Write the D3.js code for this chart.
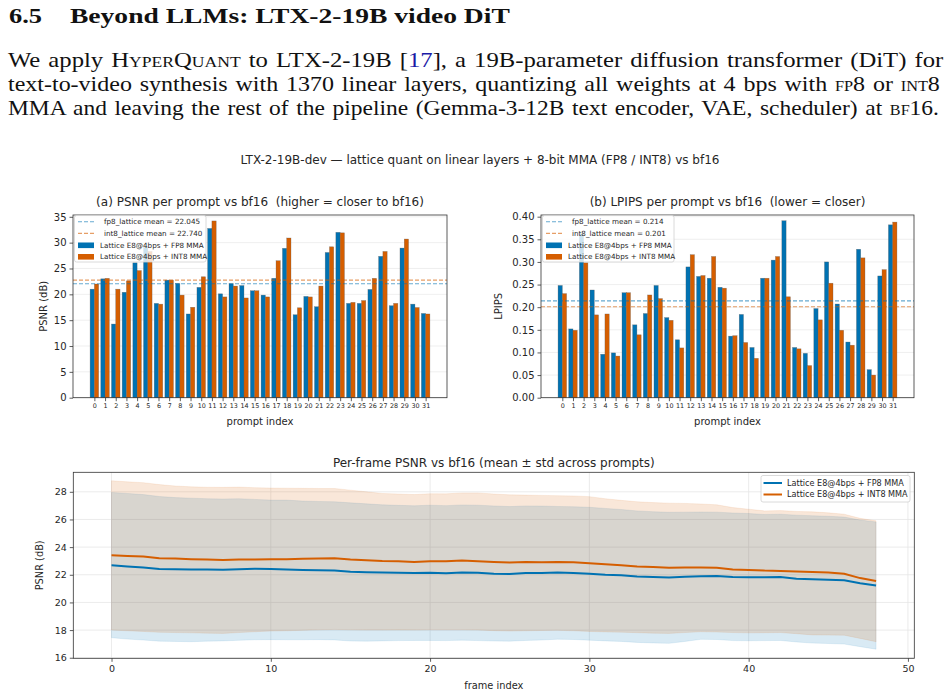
<!DOCTYPE html>
<html>
<head>
<meta charset="UTF-8">
<title>LTX-2-19B lattice quant</title>
<script src="https://d3js.org/d3.v7.min.js"></script>
<style>
  body { margin: 0; background: #fff; width: 950px; height: 695px; overflow: hidden; }
  .sc { font-variant: small-caps; }
</style>
</head>
<body>
<div id="chart"></div>
<script>
// ---- data ----
const prompts = [0,1,2,3,4,5,6,7,8,9,10,11,12,13,14,15,16,17,18,19,20,21,22,23,24,25,26,27,28,29,30,31]

const psnrFp8  = [21.0,23.0,14.25,20.4,26.1,29.1,18.25,22.75,22.1,16.2,21.35,32.75,20.1,22.05,21.7,20.7,
                  19.85,23.1,28.9,16.05,19.6,17.6,28.1,32.0,18.25,18.25,20.95,27.35,17.8,28.95,18.1,16.3]
const psnrInt8 = [22.0,23.1,21.0,22.6,24.6,28.3,18.1,22.75,19.85,17.5,23.4,34.2,19.5,21.6,19.3,20.7,
                  19.5,26.5,30.9,17.4,19.5,21.6,29.2,31.9,18.45,18.8,23.1,28.3,18.25,30.7,17.45,16.2]
const psnrMeans = [22.045, 22.740]

const lpipsFp8  = [0.248,0.152,0.362,0.238,0.096,0.099,0.232,0.161,0.186,0.248,0.177,0.128,0.289,0.268,0.264,0.244,
                   0.136,0.184,0.111,0.264,0.304,0.391,0.111,0.098,0.197,0.300,0.207,0.123,0.328,0.062,0.269,0.382]
const lpipsInt8 = [0.230,0.149,0.298,0.183,0.185,0.092,0.232,0.139,0.227,0.219,0.171,0.110,0.316,0.270,0.312,0.242,
                   0.137,0.122,0.087,0.264,0.312,0.223,0.108,0.071,0.172,0.253,0.149,0.116,0.309,0.050,0.283,0.388]
const lpipsMeans = [0.214, 0.201]

const frames = [0,1,2,3,4,5,6,7,8,9,10,11,12,13,14,15,16,17,18,19,20,21,22,23,24,
                25,26,27,28,29,30,31,32,33,34,35,36,37,38,39,40,41,42,43,44,45,46,47,48]
const fp8Mean = [22.68,22.60,22.52,22.42,22.40,22.39,22.38,22.36,22.40,22.43,22.41,22.38,22.35,22.32,22.30,22.22,22.18,
                 22.16,22.15,22.12,22.14,22.11,22.16,22.15,22.08,22.06,22.12,22.13,22.16,22.12,22.07,22.00,21.96,21.88,
                 21.84,21.80,21.85,21.90,21.92,21.84,21.82,21.82,21.83,21.72,21.68,21.64,21.60,21.38,21.22]
const fp8Hi   = [27.95,27.88,27.80,27.66,27.58,27.54,27.50,27.48,27.50,27.45,27.40,27.40,27.33,27.30,27.28,27.20,27.13,
                 27.06,27.02,26.99,27.03,27.00,27.05,27.03,26.98,26.93,26.98,26.97,26.94,26.92,26.88,26.80,26.72,26.62,
                 26.56,26.52,26.53,26.54,26.53,26.47,26.43,26.36,26.38,26.31,26.27,26.23,26.17,25.96,25.82]
const fp8Lo   = [17.45,17.35,17.28,17.20,17.18,17.16,17.20,17.22,17.26,17.30,17.31,17.30,17.30,17.31,17.29,17.21,17.20,
                 17.22,17.24,17.25,17.25,17.24,17.27,17.24,17.21,17.20,17.25,17.28,17.34,17.32,17.27,17.22,17.18,17.11,
                 17.07,17.04,17.18,17.33,17.32,17.24,17.23,17.24,17.25,17.14,17.06,17.03,16.99,16.80,16.62]
const int8Mean = [23.42,23.36,23.32,23.20,23.17,23.13,23.10,23.07,23.10,23.11,23.12,23.13,23.16,23.18,23.20,23.10,23.05,
                  23.00,22.98,22.93,22.98,22.97,23.03,22.98,22.92,22.88,22.92,22.90,22.92,22.90,22.84,22.76,22.69,22.60,
                  22.56,22.50,22.53,22.53,22.50,22.38,22.35,22.30,22.28,22.24,22.20,22.16,22.08,21.76,21.55]
const int8Hi   = [28.80,28.72,28.66,28.52,28.42,28.36,28.33,28.32,28.34,28.30,28.27,28.26,28.25,28.24,28.24,28.12,28.00,
                  27.88,27.84,27.80,27.86,27.85,27.92,27.92,27.84,27.78,27.76,27.74,27.72,27.70,27.65,27.50,27.38,27.28,
                  27.22,27.18,27.16,27.12,27.06,26.86,26.74,26.62,26.64,26.58,26.55,26.48,26.38,26.08,25.90]
const int8Lo   = [18.00,17.95,17.90,17.84,17.82,17.80,17.78,17.76,17.82,17.88,17.93,17.95,17.98,18.02,18.05,18.02,18.00,
                  18.00,18.01,18.00,18.02,18.02,18.02,18.00,17.96,17.93,17.95,17.97,17.98,17.95,17.90,17.87,17.85,17.81,
                  17.78,17.76,17.82,17.88,17.86,17.82,17.80,17.81,17.82,17.74,17.65,17.64,17.63,17.40,17.16]

const psnrTicks  = [0,5,10,15,20,25,30,35]
const lpipsTicks = [0,0.05,0.10,0.15,0.20,0.25,0.30,0.35,0.40]
const frameTicks = [0,10,20,30,40,50]
const frameYTicks = [16,18,20,22,24,26,28]

const seriesNames = ['Lattice E8@4bps + FP8 MMA', 'Lattice E8@4bps + INT8 MMA']
const meanNames = ['fp8_lattice mean', 'int8_lattice mean']

// paragraph text above the figure, split in runs: [text, style]
const paraLines = [
  [['We apply ', ''], ['HyperQuant', 'sc'], [' to LTX-2-19B [', ''], ['17', 'ref'], ['], a 19B-parameter diffusion transformer (DiT) for', '']],
  [['text-to-video synthesis with 1370 linear layers, quantizing all weights at 4 bps with ', ''], ['fp8', 'sc'], [' or ', ''], ['int8', 'sc']],
  [['MMA and leaving the rest of the pipeline (Gemma-3-12B text encoder, VAE, scheduler) at ', ''], ['bf16', 'sc'], ['.', '']]
]

const blue = '#0072B2', orange = '#D55E00'
const txt = '#262626'

const svg = d3.select('#chart').append('svg').attr('width', 950).attr('height', 695)
  .attr('font-family', '"DejaVu Sans", sans-serif')

// ---- header (serif, stretched a bit to the LaTeX widths) ----
const serif = '"Liberation Serif", "DejaVu Serif", serif'
function fitText(sel, x, yb, width) {
  const w = sel.node().getComputedTextLength()
  sel.attr('transform', `translate(${x},${yb}) scale(${width / w},1)`)
}
const secNum = svg.append('text').attr('font-family', serif).attr('font-weight', 'bold')
  .attr('font-size', '22px').attr('fill', '#111').text('6.5')
fitText(secNum, 9, 23, 33)
const secTitle = svg.append('text').attr('font-family', serif).attr('font-weight', 'bold')
  .attr('font-size', '22px').attr('fill', '#111').text('Beyond LLMs: LTX-2-19B video DiT')
fitText(secTitle, 70, 23, 440)

paraLines.forEach((runs, li) => {
  const t = svg.append('text').attr('font-family', serif).attr('font-size', '20px').attr('fill', '#111')
    .style('word-spacing', '1.5px')
  runs.forEach(r => {
    const ts = t.append('tspan').text(r[0])
    if (r[1] === 'sc') ts.attr('class', 'sc')
    if (r[1] === 'ref') ts.attr('fill', '#1a1aa6')
  })
  fitText(t, 8, 67 + li * 24, li === 2 ? 932 : 934)
})

svg.append('text').attr('x', 480).attr('y', 164).attr('text-anchor', 'middle')
  .attr('font-size', '12px').attr('fill', txt)
  .text('LTX-2-19B-dev \u2014 lattice quant on linear layers + 8-bit MMA (FP8 / INT8) vs bf16')

function styleAxis(ax, size) {
  ax.select('.domain').remove()
  ax.selectAll('.tick line').attr('stroke', '#333').attr('stroke-width', 0.8)
  ax.selectAll('.tick text').attr('fill', txt).attr('font-size', size).attr('font-family', '"DejaVu Sans", sans-serif')
}

function barPanel(p) {
  const top = 215, bot = 397.7
  const x = d3.scaleLinear().domain([-2, 33]).range([p.x0, p.x1])
  const y = d3.scaleLinear().domain([0, p.ymax]).range([bot, top])
  const g = svg.append('g')

  g.append('g').selectAll('line').data(p.ticks).join('line')
    .attr('x1', p.x0).attr('x2', p.x1).attr('y1', d => y(d)).attr('y2', d => y(d))
    .attr('stroke', '#ebebeb').attr('stroke-width', 0.8)

  const sets = [{v: p.fp8, c: blue, off: -0.4}, {v: p.int8, c: orange, off: 0}]
  sets.forEach(s => {
    g.append('g').selectAll('rect').data(s.v).join('rect')
      .attr('x', (d, i) => x(prompts[i] + s.off))
      .attr('width', x(0.4) - x(0))
      .attr('y', d => y(d))
      .attr('height', d => y(0) - y(d))
      .attr('fill', s.c).attr('stroke', '#555').attr('stroke-width', 0.5).attr('stroke-opacity', 0.55)
  })

  // dashed mean lines
  g.append('g').selectAll('line').data(p.means).join('line')
    .attr('x1', p.x0).attr('x2', p.x1).attr('y1', d => y(d)).attr('y2', d => y(d))
    .attr('stroke', (d, i) => i ? orange : blue).attr('stroke-opacity', 0.6)
    .attr('stroke-width', 1.1).attr('stroke-dasharray', '4,2')

  g.append('rect').attr('x', p.x0).attr('y', top).attr('width', p.x1 - p.x0).attr('height', bot - top)
    .attr('fill', 'none').attr('stroke', '#333').attr('stroke-width', 0.8)

  const ya = g.append('g').attr('transform', `translate(${p.x0},0)`)
    .call(d3.axisLeft(y).tickValues(p.ticks).tickFormat(p.fmt).tickSize(3.5).tickPadding(3))
  styleAxis(ya, '10px')
  const xa = g.append('g').attr('transform', `translate(0,${bot})`)
    .call(d3.axisBottom(x).tickValues(prompts).tickSize(3.5).tickPadding(2))
  styleAxis(xa, '6.4px')

  const cx = (p.x0 + p.x1) / 2
  g.append('text').attr('x', cx).attr('y', 205.5).attr('text-anchor', 'middle')
    .attr('font-size', '12px').attr('fill', txt).style('white-space', 'pre').text(p.title)
  g.append('text').attr('x', cx).attr('y', 425).attr('text-anchor', 'middle')
    .attr('font-size', '10px').attr('fill', txt).text('prompt index')
  g.append('text').attr('transform', `translate(${p.x0 - p.ylabOff},${(top + bot) / 2}) rotate(-90)`)
    .attr('text-anchor', 'middle').attr('font-size', '10px').attr('fill', txt).text(p.ylabel)

  // legend
  const lx = p.x0 + 1.5, ly = 215.5
  const lg = g.append('g')
  lg.append('rect').attr('x', lx).attr('y', ly).attr('width', 131.5).attr('height', 46.5).attr('rx', 2)
    .attr('fill', '#fff').attr('fill-opacity', 0.8).attr('stroke', '#d0d0d0').attr('stroke-width', 0.8)
  p.means.forEach((m, i) => {
    const yy = ly + 6.2 + i * 11.7
    lg.append('line').attr('x1', lx + 3.5).attr('x2', lx + 19.5).attr('y1', yy).attr('y2', yy)
      .attr('stroke', i ? orange : blue).attr('stroke-opacity', 0.6).attr('stroke-width', 1.1).attr('stroke-dasharray', '4,2')
    lg.append('text').attr('x', lx + 29.5).attr('y', yy + 2.6).attr('font-size', '7.2px').attr('fill', txt)
      .text(`${meanNames[i]} = ${p.meanFmt(m)}`)
  })
  seriesNames.forEach((n, i) => {
    const yy = ly + 29.8 + i * 11.5
    lg.append('rect').attr('x', lx + 3.5).attr('y', yy - 2.8).attr('width', 16).attr('height', 5.6)
      .attr('fill', i ? orange : blue)
    lg.append('text').attr('x', lx + 25.5).attr('y', yy + 2.6).attr('font-size', '7.2px').attr('fill', txt).text(n)
  })
}

barPanel({
  x0: 73, x1: 447, ymax: 35.35, ticks: psnrTicks, fmt: d3.format('d'),
  fp8: psnrFp8, int8: psnrInt8, means: psnrMeans, meanFmt: d3.format('.3f'),
  title: '(a) PSNR per prompt vs bf16  (higher = closer to bf16)', ylabel: 'PSNR (dB)', ylabOff: 26
})
barPanel({
  x0: 541, x1: 914, ymax: 0.4037, ticks: lpipsTicks, fmt: d3.format('.2f'),
  fp8: lpipsFp8, int8: lpipsInt8, means: lpipsMeans, meanFmt: d3.format('.3f'),
  title: '(b) LPIPS per prompt vs bf16  (lower = closer)', ylabel: 'LPIPS', ylabOff: 39
})

// ---- per-frame panel ----
{
  const x0 = 73.3, x1 = 914.3, top = 472.3, bot = 658.3
  const x = d3.scaleLinear().domain([-2.4, 50.4]).range([x0, x1])
  const y = d3.scaleLinear().domain([15.96, 29.41]).range([bot, top])
  const g = svg.append('g')

  g.append('g').selectAll('line').data(frameYTicks).join('line')
    .attr('x1', x0).attr('x2', x1).attr('y1', d => y(d)).attr('y2', d => y(d))
    .attr('stroke', '#e6e6e6').attr('stroke-width', 0.8)
  g.append('g').selectAll('line').data(frameTicks).join('line')
    .attr('y1', top).attr('y2', bot).attr('x1', d => x(d)).attr('x2', d => x(d))
    .attr('stroke', '#e6e6e6').attr('stroke-width', 0.8)

  const bands = [{lo: fp8Lo, hi: fp8Hi, c: blue}, {lo: int8Lo, hi: int8Hi, c: orange}]
  bands.forEach(b => {
    const area = d3.area().x((d, i) => x(frames[i])).y0((d, i) => y(b.lo[i])).y1(d => y(d))
    g.append('path').datum(b.hi).attr('d', area)
      .attr('fill', b.c).attr('fill-opacity', 0.15)
      .attr('stroke', b.c).attr('stroke-opacity', 0.12).attr('stroke-width', 0.8)
  })

  const lines = [{v: fp8Mean, c: blue}, {v: int8Mean, c: orange}]
  lines.forEach(l => {
    const line = d3.line().x((d, i) => x(frames[i])).y(d => y(d))
    g.append('path').datum(l.v).attr('d', line).attr('fill', 'none')
      .attr('stroke', l.c).attr('stroke-width', 2)
  })

  g.append('rect').attr('x', x0).attr('y', top).attr('width', x1 - x0).attr('height', bot - top)
    .attr('fill', 'none').attr('stroke', '#333').attr('stroke-width', 0.8)

  const ya = g.append('g').attr('transform', `translate(${x0},0)`)
    .call(d3.axisLeft(y).tickValues(frameYTicks).tickSize(3.5).tickPadding(3))
  styleAxis(ya, '9.5px')
  const xa = g.append('g').attr('transform', `translate(0,${bot})`)
    .call(d3.axisBottom(x).tickValues(frameTicks).tickSize(3.5).tickPadding(3))
  styleAxis(xa, '9.5px')

  g.append('text').attr('x', (x0 + x1) / 2).attr('y', 466.5).attr('text-anchor', 'middle')
    .attr('font-size', '12px').attr('fill', txt).text('Per-frame PSNR vs bf16 (mean \u00b1 std across prompts)')
  g.append('text').attr('x', (x0 + x1) / 2).attr('y', 688.5).attr('text-anchor', 'middle')
    .attr('font-size', '9.8px').attr('fill', txt).text('frame index')
  g.append('text').attr('transform', `translate(${x0 - 30},${(top + bot) / 2}) rotate(-90)`)
    .attr('text-anchor', 'middle').attr('font-size', '9.8px').attr('fill', txt).text('PSNR (dB)')

  const lx = 761, ly = 475.5
  g.append('rect').attr('x', lx).attr('y', ly).attr('width', 149).attr('height', 26.5).attr('rx', 2)
    .attr('fill', '#fff').attr('fill-opacity', 0.8).attr('stroke', '#d0d0d0').attr('stroke-width', 0.8)
  seriesNames.forEach((n, i) => {
    const yy = ly + 7.5 + i * 11.5
    g.append('line').attr('x1', lx + 2.5).attr('x2', lx + 21).attr('y1', yy).attr('y2', yy)
      .attr('stroke', i ? orange : blue).attr('stroke-width', 2)
    g.append('text').attr('x', lx + 26).attr('y', yy + 2.8).attr('font-size', '8.1px').attr('fill', txt).text(n)
  })
}
</script>
</body>
</html>
